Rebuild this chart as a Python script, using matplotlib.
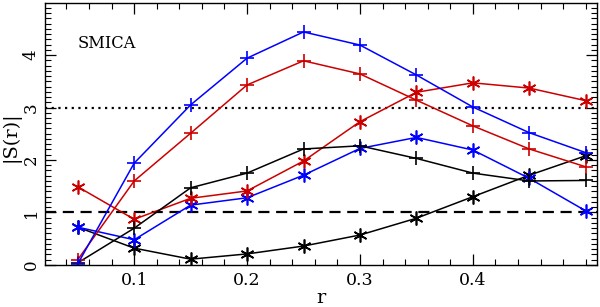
#!/usr/bin/env python3
import numpy as np
import matplotlib.pyplot as plt
from matplotlib.ticker import FixedLocator, MultipleLocator

plt.rcParams['font.family'] = ['DejaVu Serif']

r = [0.05, 0.10, 0.15, 0.20, 0.25, 0.30, 0.35, 0.40, 0.45, 0.50]

# plus-marker curves
blue_plus = [0.02, 1.94, 3.05, 3.94, 4.44, 4.19, 3.62, 3.01, 2.52, 2.14]
red_plus = [0.10, 1.60, 2.51, 3.43, 3.89, 3.64, 3.14, 2.65, 2.21, 1.87]
black_plus = [0.04, 0.70, 1.47, 1.75, 2.21, 2.27, 2.03, 1.75, 1.60, 1.61]

# asterisk-marker curves
red_star = [1.49, 0.87, 1.27, 1.41, 1.98, 2.73, 3.29, 3.47, 3.37, 3.13]
blue_star = [0.72, 0.48, 1.14, 1.28, 1.71, 2.22, 2.43, 2.19, 1.65, 1.03]
black_star = [0.72, 0.32, 0.11, 0.21, 0.36, 0.57, 0.89, 1.30, 1.71, 2.08]

BLUE = '#0000ff'
RED = '#cc0000'
BLACK = '#000000'
AST = (6, 2, 0)

fig = plt.figure(figsize=(6.0, 3.07), dpi=100)
ax = fig.add_axes([0.075, 0.137, 0.92, 0.853])

ax.axhline(1.0, color='k', ls=(0, (5, 3)), lw=1.6)
ax.axhline(3.0, color='k', ls=(0, (1, 2)), lw=1.6)

for y, c in [(black_star, BLACK), (blue_star, BLUE), (red_star, RED)]:
    ax.plot(r, y, color=c, lw=1.1, marker=AST, ms=10, mew=1.2)
for y, c in [(black_plus, BLACK), (red_plus, RED), (blue_plus, BLUE)]:
    ax.plot(r, y, color=c, lw=1.1, marker='+', ms=10, mew=1.2)

ax.set_xlim(0.021, 0.51)
ax.set_ylim(0, 4.99)
ax.xaxis.set_major_locator(FixedLocator([0.1, 0.2, 0.3, 0.4]))
ax.xaxis.set_minor_locator(MultipleLocator(0.02))
ax.yaxis.set_major_locator(FixedLocator([0, 1, 2, 3, 4]))
ax.yaxis.set_minor_locator(MultipleLocator(0.1))
ax.set_xticklabels(['0.1', '0.2', '0.3', '0.4'])
ax.set_yticklabels(['0', '1', '2', '3', '4'], rotation=90, va='center')
ax.tick_params(which='both', direction='in', top=True, right=True)
ax.tick_params(which='major', length=8, width=0.9)
ax.tick_params(which='minor', length=4, width=0.8)
ax.tick_params(axis='x', pad=5, labelsize=12.5)
ax.tick_params(axis='y', pad=4, labelsize=12)

ax.set_xlabel('r', fontsize=14)
ax.xaxis.set_label_coords(0.5, -0.09)
ax.set_ylabel('|S(r)|', fontsize=14)
ax.yaxis.set_label_coords(-0.045, 0.49)
ax.text(0.06, 0.83, 'SMICA', transform=ax.transAxes, fontsize=11.7)

for s in ax.spines.values():
    s.set_linewidth(1.0)

fig.savefig('out.png', dpi=100)
